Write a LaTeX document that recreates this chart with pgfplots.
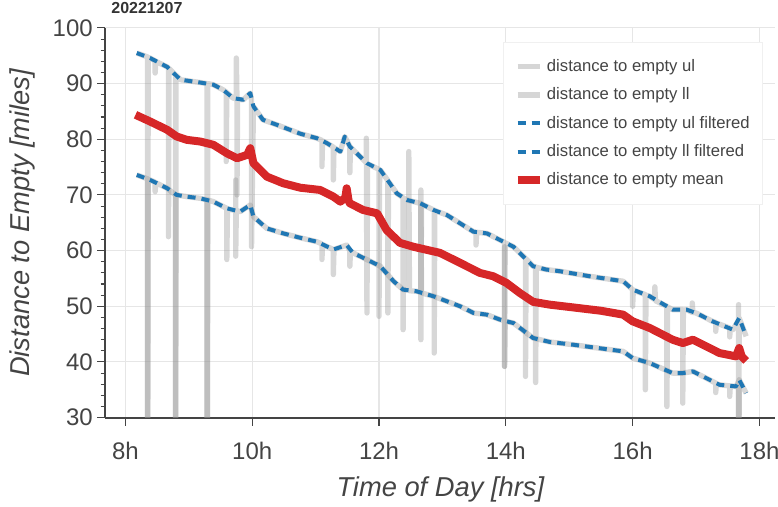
\documentclass[border=0pt]{standalone}
\usepackage{pgfplots}
\pgfplotsset{compat=1.18}
\usepackage{pgfplotstable}
\usepackage{fontspec}
\setmainfont{Liberation Sans}
\definecolor{axiscol}{HTML}{444444}
\definecolor{textcol}{HTML}{444444}
\definecolor{gridcol}{HTML}{E6E6E6}
\definecolor{bblue}{HTML}{1F77B4}
\definecolor{bred}{HTML}{D62728}
\definecolor{rawcol}{RGB}{148,148,148}

\pgfplotstableread{
t v
8.18 95.5
8.35 94.8
8.35 0
8.36 94.7
8.39 94.6
8.42 94.4
8.47 94.1
8.47 91.9
8.48 94.0
8.66 93.0
8.68 92.8
8.68 62.5
8.69 92.7
8.79 91.6
8.79 0
8.80 91.5
8.87 90.7
9.18 90.2
9.29 90.0
9.29 0
9.30 90.0
9.39 89.8
9.54 88.9
9.59 88.5
9.59 76.0
9.60 88.4
9.70 87.4
9.75 87.3
9.75 94.6
9.76 87.3
9.76 70.0
9.77 87.2
9.86 87.1
9.97 88.3
9.99 87.0
9.99 60.7
10.02 85.9
10.17 83.5
10.39 82.6
10.76 81.0
11.02 80.2
11.10 79.8
11.10 75.1
11.11 79.7
11.18 79.3
11.28 78.6
11.28 72.7
11.29 78.5
11.39 77.8
11.46 80.5
11.54 78.7
11.54 74.0
11.55 78.6
11.80 75.8
11.80 80.2
11.81 48.8
11.82 75.6
12.00 74.6
12.00 48.2
12.01 74.5
12.02 74.5
12.14 72.6
12.14 48.8
12.15 72.4
12.17 72.1
12.28 70.3
12.38 69.5
12.38 45.8
12.39 69.4
12.44 69.1
12.65 68.5
12.66 68.5
12.66 44.0
12.67 68.4
12.86 67.3
12.87 67.3
12.87 41.6
12.88 67.2
13.07 66.4
13.28 64.9
13.49 63.4
13.53 63.3
13.53 61.0
13.54 63.3
13.70 63.1
13.91 61.9
13.98 61.5
13.98 39.2
13.99 61.4
14.12 60.7
14.31 58.6
14.31 37.4
14.32 58.5
14.43 57.2
14.47 57.1
14.47 36.3
14.48 57.0
14.64 56.6
14.85 56.3
15.32 55.4
15.85 54.5
16.00 53.0
16.00 50.0
16.01 52.9
16.20 52.1
16.20 35.0
16.21 52.0
16.27 51.8
16.35 51.2
16.35 53.5
16.36 51.0
16.54 50.0
16.54 32.0
16.55 49.9
16.63 49.4
16.79 49.4
16.79 32.6
16.80 49.3
16.85 49.4
16.94 48.9
16.94 50.6
16.95 48.9
17.00 48.8
17.26 47.3
17.31 47.1
17.31 45.5
17.32 47.0
17.53 46.1
17.53 44.5
17.54 46.0
17.58 45.8
17.67 47.5
17.67 50.3
17.67 0
17.68 47.9
17.79 44.6
}\ulraw

\pgfplotstableread{
t v
8.18 73.6
8.35 72.9
8.35 0
8.36 72.8
8.39 72.7
8.47 72.3
8.47 70.6
8.48 72.2
8.66 71.2
8.79 70.0
8.79 0
8.80 70.0
8.81 70.0
8.97 69.7
9.18 69.4
9.29 69.1
9.29 0
9.30 69.1
9.39 68.8
9.60 67.6
9.60 58.4
9.61 67.5
9.74 67.2
9.74 72.7
9.74 59.0
9.75 67.2
9.81 67.0
9.97 68.2
10.02 66.1
10.23 64.0
10.49 63.1
10.76 62.3
11.02 61.6
11.10 61.2
11.10 58.4
11.11 61.1
11.28 60.2
11.28 55.7
11.29 60.2
11.49 61.0
11.54 60.0
11.54 57.2
11.55 59.9
11.59 59.6
11.86 58.1
12.02 57.2
12.23 54.5
12.38 53.0
12.47 52.9
12.47 77.8
12.48 52.8
12.59 52.7
12.66 52.5
12.66 70.9
12.67 52.4
12.86 51.8
13.07 50.9
13.28 50.0
13.49 48.8
13.70 48.5
13.91 47.6
13.98 47.4
13.98 60.7
13.98 39.2
13.99 47.3
14.12 47.0
14.43 44.3
14.69 43.6
15.06 43.1
15.85 41.9
16.00 40.7
16.27 39.8
16.63 38.0
16.79 38.0
16.95 38.3
17.16 37.1
17.31 36.2
17.31 34.5
17.32 36.1
17.37 35.9
17.53 35.7
17.53 33.8
17.54 35.7
17.63 35.6
17.67 36.5
17.67 0
17.68 36.8
17.79 34.4
}\llraw

\pgfplotstableread{
t v
8.18 95.5
8.39 94.6
8.66 93.0
8.87 90.7
9.18 90.2
9.39 89.8
9.54 88.9
9.70 87.4
9.86 87.1
9.97 88.3
10.02 85.9
10.17 83.5
10.39 82.6
10.76 81.0
11.02 80.2
11.18 79.3
11.39 77.8
11.46 80.5
11.54 78.7
11.81 75.7
12.02 74.5
12.17 72.1
12.28 70.3
12.44 69.1
12.65 68.5
12.86 67.3
13.07 66.4
13.28 64.9
13.49 63.4
13.70 63.1
13.91 61.9
14.12 60.7
14.43 57.2
14.64 56.6
14.85 56.3
15.32 55.4
15.85 54.5
16.00 53.0
16.27 51.8
16.63 49.4
16.85 49.4
17.00 48.8
17.26 47.3
17.58 45.8
17.68 47.9
17.79 44.6
}\ulfilt

\pgfplotstableread{
t v
8.18 73.6
8.39 72.7
8.66 71.2
8.81 70.0
8.97 69.7
9.18 69.4
9.39 68.8
9.60 67.6
9.81 67.0
9.97 68.2
10.02 66.1
10.23 64.0
10.49 63.1
10.76 62.3
11.02 61.6
11.28 60.2
11.49 61.0
11.59 59.6
11.86 58.1
12.02 57.2
12.23 54.5
12.38 53.0
12.59 52.7
12.86 51.8
13.07 50.9
13.28 50.0
13.49 48.8
13.70 48.5
13.91 47.6
14.12 47.0
14.43 44.3
14.69 43.6
15.06 43.1
15.85 41.9
16.00 40.7
16.27 39.8
16.63 38.0
16.79 38.0
16.95 38.3
17.16 37.1
17.37 35.9
17.63 35.6
17.68 36.8
17.79 34.4
}\llfilt

\pgfplotstableread{
t v
8.16 84.4
8.39 83.2
8.66 81.7
8.81 80.5
8.97 79.9
9.18 79.6
9.39 79.0
9.60 77.5
9.76 76.6
9.92 77.2
9.97 78.4
10.02 75.7
10.23 73.3
10.49 72.1
10.76 71.3
11.07 70.9
11.28 69.7
11.39 68.8
11.47 69.5
11.49 71.2
11.52 69.0
11.54 68.5
11.75 67.3
11.97 66.7
12.12 63.7
12.33 61.4
12.54 60.7
12.96 59.6
13.28 57.8
13.59 56.0
13.80 55.4
14.01 54.2
14.22 52.4
14.43 50.8
14.69 50.3
15.06 49.8
15.50 49.2
15.85 48.5
16.00 47.3
16.27 46.1
16.63 44.0
16.79 43.4
16.95 44.0
17.16 42.8
17.37 41.6
17.63 41.0
17.68 42.5
17.72 41.0
17.79 40.2
}\meanline

\begin{document}
\begin{tikzpicture}
\begin{axis}[
  scale only axis,
  width=502.9pt, height=292.5pt,
  xmin=7.685, xmax=18.25,
  ymin=30, ymax=100,
  axis lines*=left,
  axis line style={-, draw=axiscol, line width=1.5pt},
  xtick={8,10,12,14,16,18},
  xticklabels={8h,10h,12h,14h,16h,18h},
  ytick={30,40,50,60,70,80,90,100},
  minor y tick num=4,
  tick align=outside,
  major tick length=6pt,
  minor tick length=3.5pt,
  tick style={draw=axiscol, line width=0.8pt},
  grid=major,
  major grid style={draw=gridcol, line width=0.8pt},
  /pgf/number format/assume math mode=true,
  tick label style={font=\fontsize{18}{20}\selectfont, text=textcol},
  xticklabel style={yshift=-9pt},
  xlabel={\itshape Time of Day [hrs]},
  ylabel={\itshape Distance to Empty [miles]},
  label style={font=\fontsize{20.5}{23}\selectfont, text=textcol},
  xlabel style={at={(axis description cs:0.5,0)}, anchor=center, yshift=-54pt},
  ylabel style={at={(axis description cs:-0.1239,0.5)}, anchor=center},
  title={\bfseries 20221207},
  title style={at={(axis description cs:0,1)}, anchor=south west, xshift=1pt, yshift=1pt, font=\fontsize{12}{13}\selectfont, text=black!80},
  legend style={at={(axis description cs:0.594,0.964)}, anchor=north west,
    draw=gray!12, fill=white, font=\fontsize{12.5}{15}\selectfont, text=textcol,
    inner xsep=7.5pt, inner ysep=11pt, row sep=6.7pt, cells={anchor=west}},
  legend cell align=left,
]
\addplot[draw=rawcol, draw opacity=0.375, line width=4pt, line join=round] table[x=t,y=v]{\ulraw};
\addlegendentry{distance to empty ul}
\addplot[draw=rawcol, draw opacity=0.375, line width=4pt, line join=round] table[x=t,y=v]{\llraw};
\addlegendentry{distance to empty ll}
\addplot[draw=bblue, line width=3pt, dash pattern=on 6pt off 4.5pt, line join=round] table[x=t,y=v]{\ulfilt};
\addlegendentry{distance to empty ul filtered}
\addplot[draw=bblue, line width=3pt, dash pattern=on 6pt off 4.5pt, line join=round] table[x=t,y=v]{\llfilt};
\addlegendentry{distance to empty ll filtered}
\addplot[draw=bred, line width=6pt, line join=round] table[x=t,y=v]{\meanline};
\addlegendentry{distance to empty mean}
\end{axis}
\pgfresetboundingbox
\path ([xshift=-79.1pt,yshift=-66.75pt]current axis.south west) rectangle ([xshift=2pt,yshift=21pt]current axis.north east);
\end{tikzpicture}
\end{document}
